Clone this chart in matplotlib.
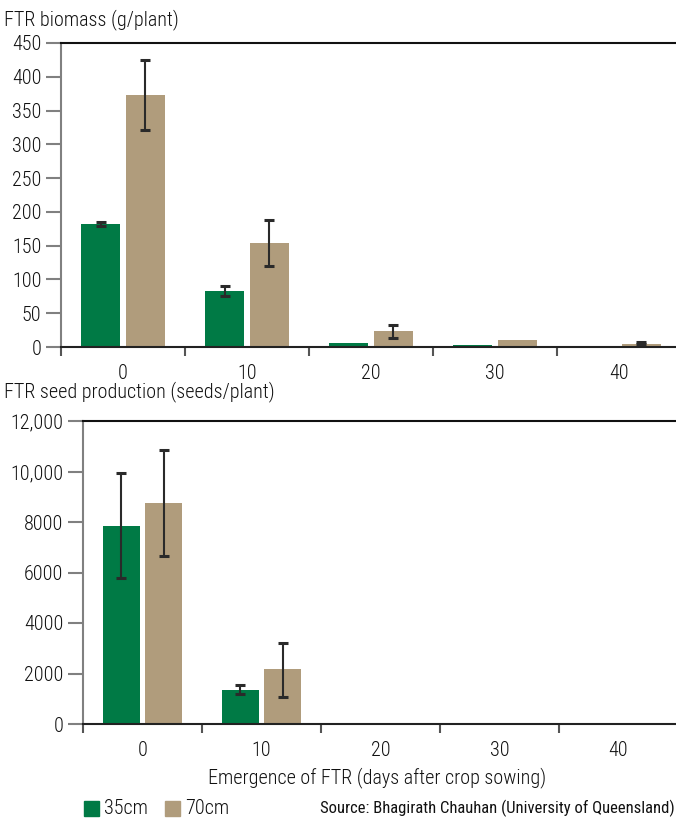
import matplotlib
matplotlib.use("Agg")
import matplotlib.pyplot as plt
from matplotlib import font_manager
from matplotlib.patches import Rectangle
import numpy as np

names = {f.name for f in font_manager.fontManager.ttflist}
NARROW = None
for cand in ["Liberation Sans Narrow", "Roboto Condensed", "Open Sans Condensed"]:
    if cand in names:
        NARROW = cand
        break
BASE = "Liberation Sans" if "Liberation Sans" in names else "DejaVu Sans"
MAIN = NARROW if NARROW else BASE
plt.rcParams['font.family'] = [MAIN, 'DejaVu Sans']
plt.rcParams['font.weight'] = 'light'

# ---- data ----
categories = ["0", "10", "20", "30", "40"]
series = ["35cm", "70cm"]
colors = ["#007A45", "#B09C7C"]

biomass_35 = [182, 83, 6, 3.5, 2]
biomass_35_lo = [179, 75, 6, 3.5, 2]
biomass_35_hi = [185, 90, 6, 3.5, 2]
biomass_70 = [373, 154, 23, 11, 5]
biomass_70_lo = [321, 120, 13, 11, 4]
biomass_70_hi = [425, 188, 32, 11, 7]

seeds_35 = [7840, 1350, 0, 0, 0]
seeds_35_lo = [5800, 1200, 0, 0, 0]
seeds_35_hi = [9950, 1550, 0, 0, 0]
seeds_70 = [8750, 2180, 0, 0, 0]
seeds_70_lo = [6650, 1050, 0, 0, 0]
seeds_70_hi = [10850, 3200, 0, 0, 0]

biomass_ticks = [0, 50, 100, 150, 200, 250, 300, 350, 400, 450]
seed_ticks = [0, 2000, 4000, 6000, 8000, 10000, 12000]
seed_tick_labels = ["0", "2000", "4000", "6000", "8000", "10,000", "12,000"]

FS = 13 if MAIN == BASE else 14.5
TXT = '#111111'

W, H = 676, 819
fig = plt.figure(figsize=(W / 100, H / 100), dpi=100)

def fx(px):
    return px / W

def fy(py):
    return 1 - py / H

def draw(ax, v35, lo35, hi35, v70, lo70, hi70, ticks, ticklabels, ymax):
    x = np.arange(len(categories))
    off, w = 0.18, 0.31
    for xs, vals, lo, hi, col in [(x - off, v35, lo35, hi35, colors[0]),
                                  (x + off, v70, lo70, hi70, colors[1])]:
        ax.bar(xs, vals, width=w, color=col, zorder=2)
        vals_a = np.array(vals, float)
        err = np.vstack([vals_a - np.array(lo, float), np.array(hi, float) - vals_a])
        mask = (err.sum(axis=0) > 0)
        ax.errorbar(xs[mask], vals_a[mask], yerr=err[:, mask], fmt='none',
                    ecolor='#2a2a2a', elinewidth=1.5, capsize=3.5, capthick=2.2, zorder=3)
    ax.set_xlim(-0.5, len(categories) - 0.5)
    ax.set_ylim(0, ymax)
    ax.set_yticks(ticks)
    ax.set_yticklabels(ticklabels)
    ax.tick_params(axis='y', length=11, width=1.5, color='#808080', labelsize=FS,
                   labelcolor=TXT, pad=3)
    ax.set_xticks(np.arange(-0.5, len(categories) + 0.5, 1.0))
    ax.set_xticklabels([])
    ax.set_xticks(x, minor=True)
    ax.set_xticklabels(categories, minor=True)
    ax.tick_params(axis='x', which='major', length=6.5, width=1.5, color='#555555',
                   direction='out')
    ax.tick_params(axis='x', which='minor', length=0, labelsize=FS,
                   labelcolor=TXT, pad=12.5)
    ax.spines['right'].set_visible(False)
    ax.spines['left'].set_color('#808080')
    ax.spines['left'].set_linewidth(1.5)
    ax.spines['bottom'].set_color('#222222')
    ax.spines['bottom'].set_linewidth(1.5)
    ax.spines['top'].set_color('#111111')
    ax.spines['top'].set_linewidth(1.5)

ax1 = fig.add_axes([fx(61), fy(347), fx(681 - 61), fy(43) - fy(347)])
draw(ax1, biomass_35, biomass_35_lo, biomass_35_hi, biomass_70, biomass_70_lo,
     biomass_70_hi, biomass_ticks, [str(t) for t in biomass_ticks], 450)

ax2 = fig.add_axes([fx(83), fy(724), fx(678 - 83), fy(421) - fy(724)])
draw(ax2, seeds_35, seeds_35_lo, seeds_35_hi, seeds_70, seeds_70_lo,
     seeds_70_hi, seed_ticks, seed_tick_labels, 12000)

fig.text(fx(4), fy(25), "FTR biomass (g/plant)", fontsize=FS, color=TXT,
         va='baseline', ha='left')
fig.text(fx(4), fy(397), "FTR seed production (seeds/plant)", fontsize=FS,
         color=TXT, va='baseline', ha='left')
fig.text(fx(377), fy(778), "Emergence of FTR (days after crop sowing)", fontsize=FS,
         color=TXT, va='center', ha='center')

# legend
for i, (name, col) in enumerate(zip(series, colors)):
    x0 = 84 + i * 81
    fig.patches.append(Rectangle((fx(x0), fy(816)), fx(15), fy(801) - fy(816),
                                 transform=fig.transFigure, color=col))
    fig.text(fx(x0 + 20), fy(808), name, fontsize=FS, color=TXT,
             va='center', ha='left')

fig.text(fx(675), fy(808), "Source: Bhagirath Chauhan (University of Queensland)",
         fontsize=(12 if NARROW else 10), color='#111111', va='center', ha='right',
         fontweight='normal')

fig.savefig("out.png", dpi=100)
